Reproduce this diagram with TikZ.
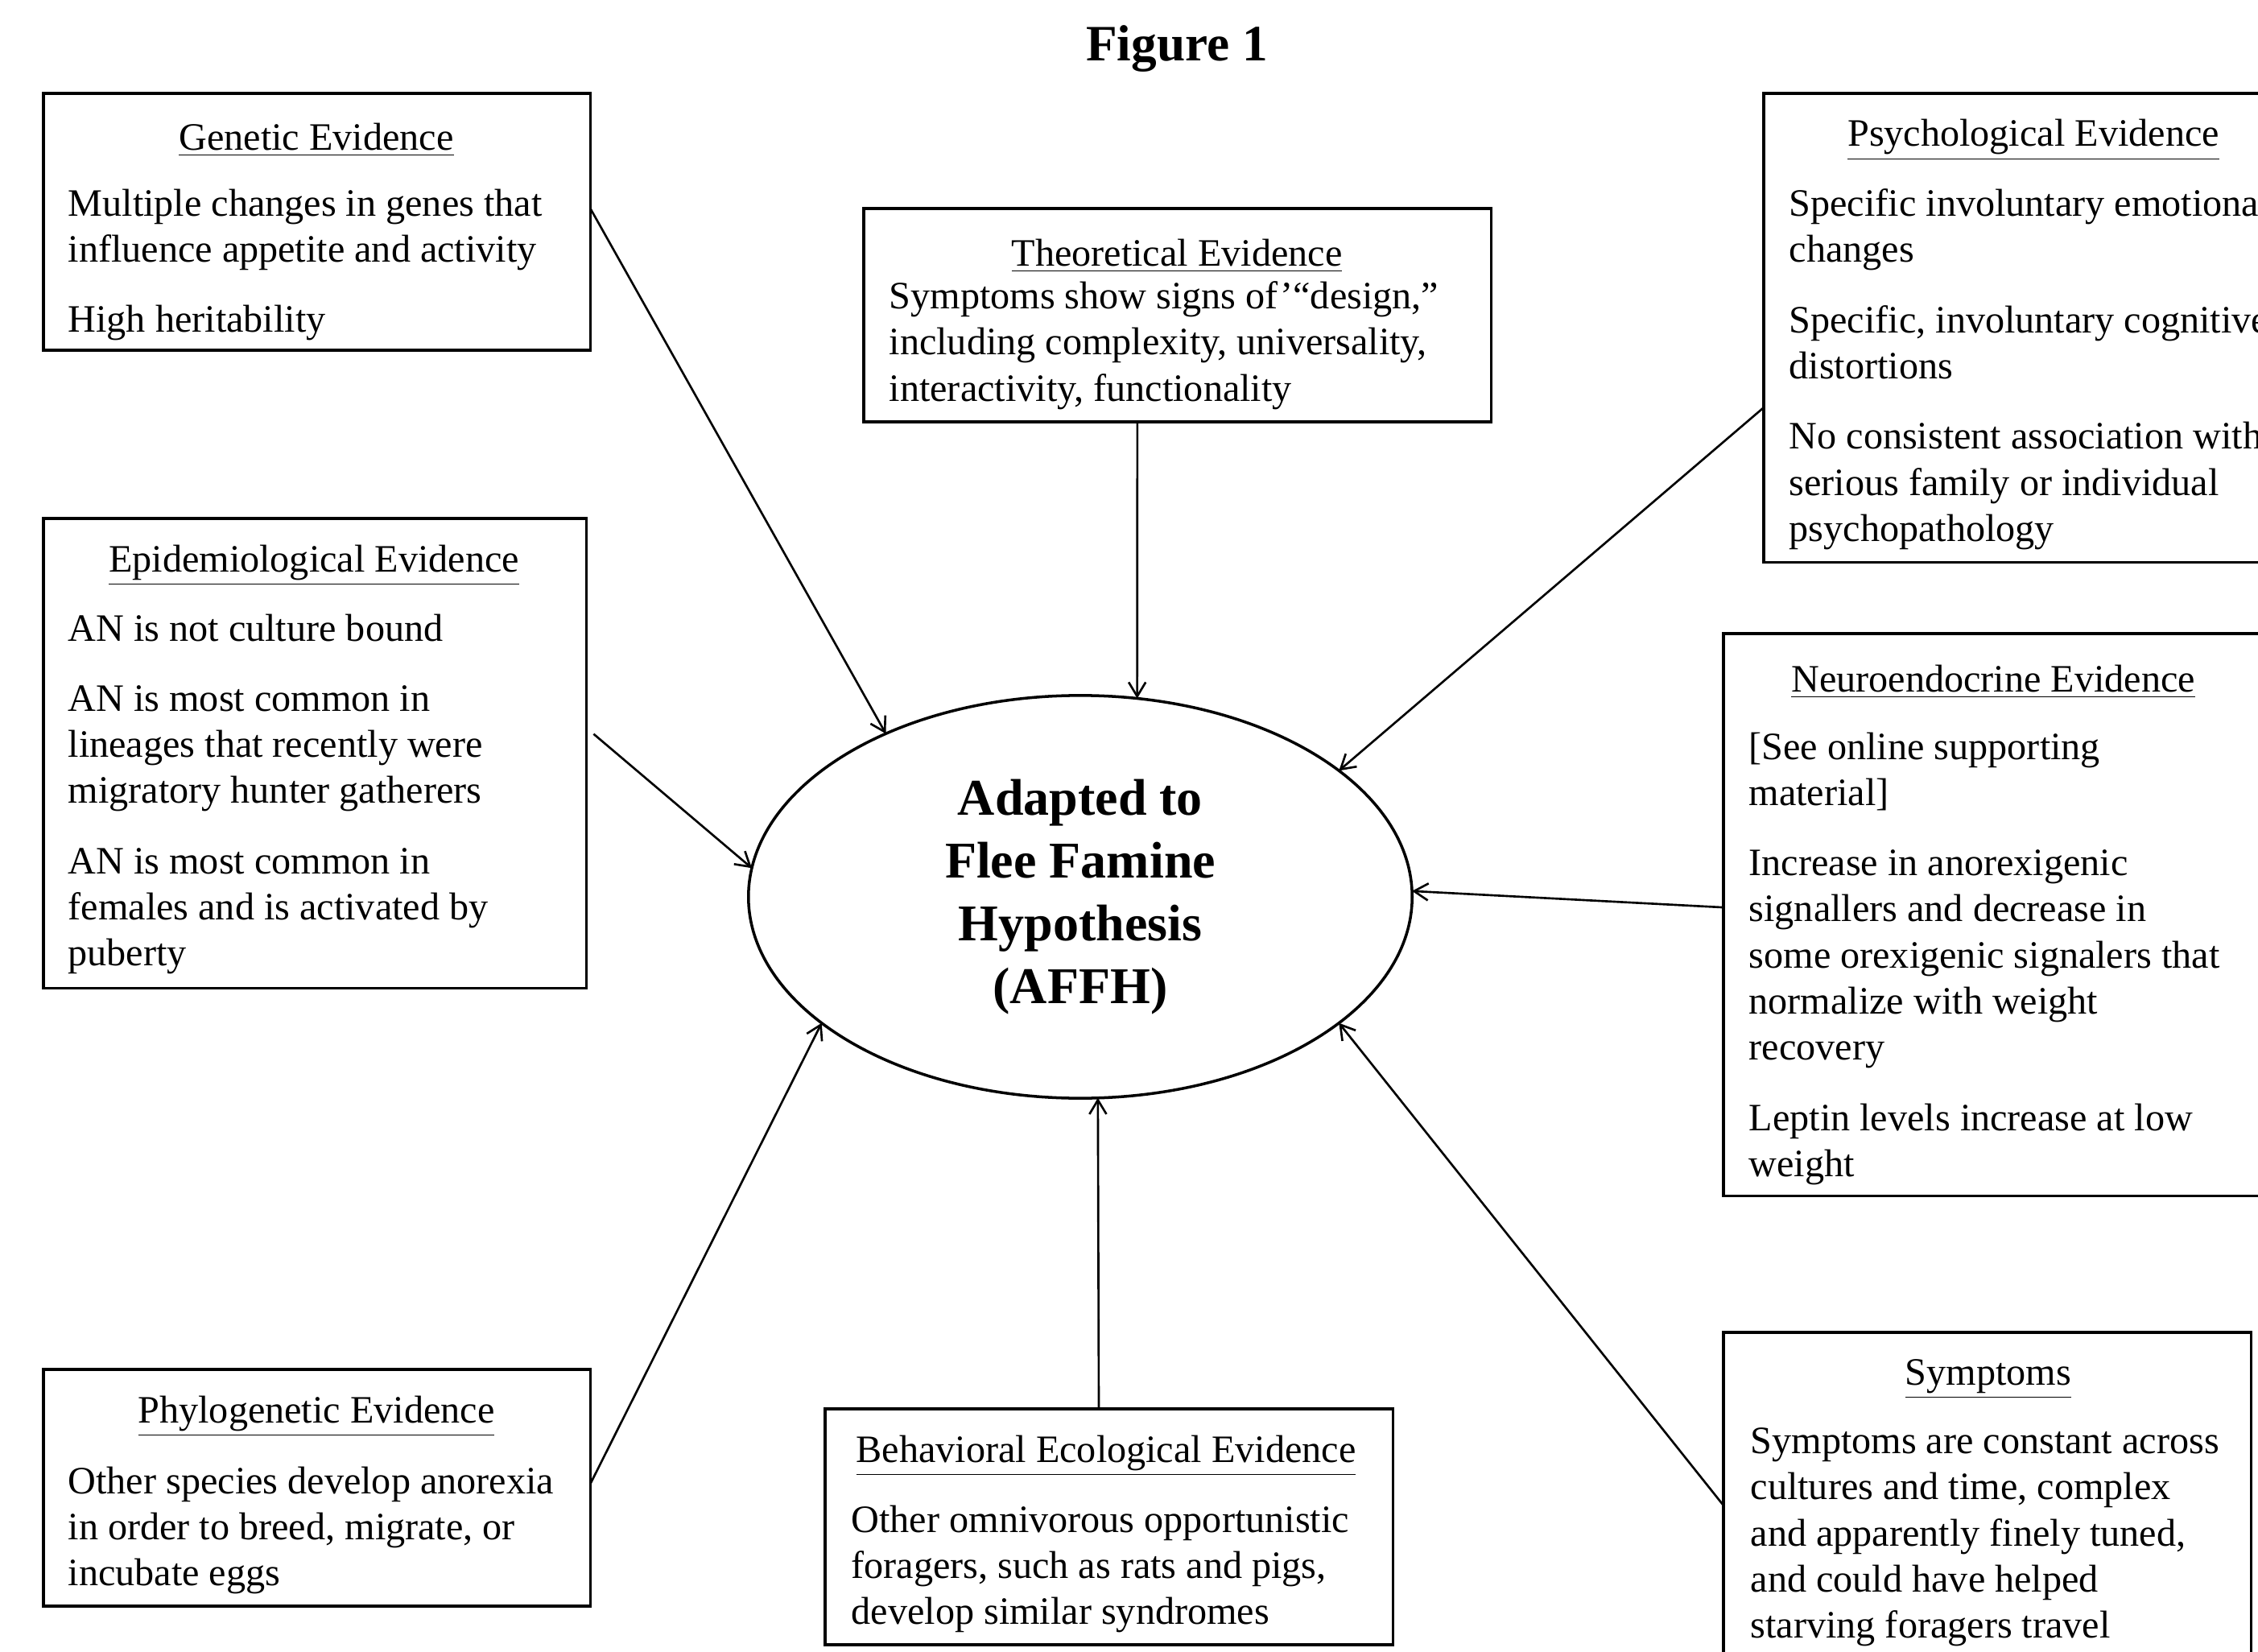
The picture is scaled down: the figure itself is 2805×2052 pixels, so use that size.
\documentclass[tikz,border=0pt]{standalone}
\usepackage{fontspec}
\setmainfont{Liberation Serif}
\usetikzlibrary{arrows.meta,shapes.geometric,calc}
\begin{document}
\begin{tikzpicture}[x=0.01cm,y=-0.01cm,
  box/.style={draw,line width=1pt,rectangle,inner sep=0,outer sep=0,anchor=north west},
  hdr/.style={font=\fontsize{13.7}{16.3}\selectfont,inner sep=0,yshift=-0.08cm},
  body/.style={font=\fontsize{13.7}{16.3}\selectfont,align=left,inner sep=0,anchor=north west},
  arr/.style={line width=0.75pt,-{Straight Barb[length=5pt,width=6pt]}}]
\fill[white] (0,0) rectangle (2805,2052);
\useasboundingbox (0,0) rectangle (2805,2052);

\node[font=\bfseries\fontsize{18}{22}\selectfont] (title) at (1462,61) {Figure 1};

\node[box,minimum width=6.79cm,minimum height=3.19cm] (gen) at (54,116) {};
\node[hdr] (genh) at (393,166) {\underline{Genetic Evidence}};
\node[body] (genb) at (84,234) {Multiple changes in genes that\\influence appetite and activity\\[8.5pt]High heritability};

\node[box,minimum width=7.79cm,minimum height=2.65cm] (theo) at (1073,259) {};
\node[hdr] (theoh) at (1462,310) {\underline{Theoretical Evidence}};
\node[body] (theob) at (1104,349) {Symptoms show signs of’“design,”\\including complexity, universality,\\interactivity, functionality};

\node[box,minimum width=6.70cm,minimum height=5.82cm] (psy) at (2191,116) {};
\node[hdr] (psyh) at (2526,166) {\underline{Psychological Evidence}};
\node[body] (psyb) at (2222,234) {Specific involuntary emotional\\changes\\[8.5pt]Specific, involuntary cognitive\\distortions\\[8.5pt]No consistent association with\\serious family or individual\\psychopathology};

\node[box,minimum width=6.74cm,minimum height=5.83cm] (epi) at (54,644) {};
\node[hdr] (epih) at (390,694) {\underline{Epidemiological Evidence}};
\node[body] (epib) at (84,762) {AN is not culture bound\\[8.5pt]AN is most common in\\lineages that recently were\\migratory hunter gatherers\\[8.5pt]AN is most common in\\females and is activated by\\puberty};

\node[box,minimum width=6.70cm,minimum height=6.98cm] (neu) at (2141,787) {};
\node[hdr] (neuh) at (2476,839) {\underline{Neuroendocrine Evidence}};
\node[body] (neub) at (2172,909) {{[}See online supporting\\material]\\[8.5pt]Increase in anorexigenic\\signallers and decrease in\\some orexigenic signalers that\\normalize with weight\\recovery\\[8.5pt]Leptin levels increase at low\\weight};

\node[box,minimum width=6.79cm,minimum height=2.94cm] (phy) at (54,1701) {};
\node[hdr] (phyh) at (393,1751) {\underline{Phylogenetic Evidence}};
\node[body] (phyb) at (84,1821) {Other species develop anorexia\\in order to breed, migrate, or\\incubate eggs};

\node[box,minimum width=7.05cm,minimum height=2.93cm] (beh) at (1025,1750) {};
\node[hdr] (behh) at (1374,1800) {\underline{Behavioral Ecological Evidence}};
\node[body] (behb) at (1057,1869) {Other omnivorous opportunistic\\foragers, such as rats and pigs,\\develop similar syndromes};

\node[box,minimum width=6.55cm,minimum height=4.95cm] (sym) at (2141,1655) {};
\node[hdr] (symh) at (2470,1705) {\underline{Symptoms}};
\node[body] (symb) at (2174,1773) {Symptoms are constant across\\cultures and time, complex\\and apparently finely tuned,\\and could have helped\\starving foragers travel};

\node[draw,ellipse,line width=1pt,minimum width=8.24cm,minimum height=5cm,inner sep=0,outer sep=0,align=center,font=\bfseries\fontsize{18.2}{22.2}\selectfont] (ell) at (1342,1114) {Adapted to\\Flee Famine\\Hypothesis\\(AFFH)};

\draw[arr] ($(gen.north east)!0.448!(gen.south east)$) -- (ell.140);
\draw[arr] ($(theo.south west)!0.436!(theo.south east)$) -- (ell.74);
\draw[arr] ($(psy.north west)!0.670!(psy.south west)$) -- (ell.26);
\draw[arr] ($(epi.east)+(9,-24)$) -- (ell.175);
\draw[arr] ($(neu.north west)!0.487!(neu.south west)$) -- (ell.1.4);
\draw[arr] ($(phy.north east)!0.483!(phy.south east)$) -- (ell.206.5);
\draw[arr] ($(beh.north west)!0.482!(beh.north east)$) -- (ell.275.3);
\draw[arr] ($(sym.north west)+(0,215)$) -- (ell.334);
\end{tikzpicture}
\end{document}
